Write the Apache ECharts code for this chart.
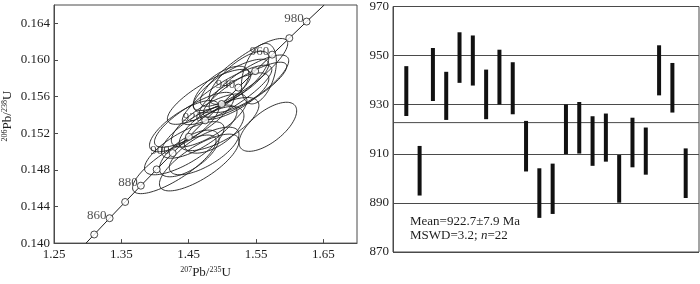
<!DOCTYPE html>
<html>
<head>
<meta charset="utf-8">
<script src="https://cdn.jsdelivr.net/npm/echarts@6/dist/echarts.min.js"></script>
<style>html,body{margin:0;padding:0;background:#fff}#c{width:700px;height:284px}</style>
</head>
<body>
<div id="c"></div>
<script>
// ---- Concordia (206Pb/238U vs 207Pb/235U) ----
const concAge = [850, 860, 870, 880, 890, 900, 910, 920, 930, 940, 950, 960, 970, 980];
const concX = [1.30971, 1.33257, 1.35566, 1.37897, 1.40252, 1.42629, 1.45031, 1.47456, 1.49905, 1.52378, 1.54876, 1.57399, 1.59946, 1.62519];
const concY = [0.14094, 0.14272, 0.14449, 0.14627, 0.14805, 0.14983, 0.15161, 0.15340, 0.15519, 0.15698, 0.15878, 0.16058, 0.16238, 0.16419];
const concLabelAges = [860, 880, 900, 920, 940, 960, 980];
const concStart = [1.2976, 0.1400];
const concEnd = [1.6513, 0.1660];

// ---- Error ellipses (one per analysis) ----
const ellX   = [1.5070, 1.4435, 1.5395, 1.4804, 1.5321, 1.5543, 1.5174, 1.5129, 1.5336, 1.4657, 1.4287, 1.4657, 1.4804, 1.4583, 1.5676, 1.4952, 1.4509, 1.4435, 1.4878, 1.5247, 1.4982, 1.4730];
const ellY   = [0.15618, 0.15036, 0.15740, 0.15597, 0.15864, 0.15850, 0.15604, 0.15728, 0.15675, 0.15217, 0.14860, 0.14880, 0.15339, 0.15346, 0.15270, 0.15300, 0.14979, 0.15277, 0.15237, 0.15805, 0.15677, 0.15006];
const ellSx  = [0.0665, 0.0591, 0.0591, 0.0620, 0.0650, 0.0260, 0.0517, 0.0561, 0.0620, 0.0561, 0.0620, 0.0591, 0.0561, 0.0591, 0.0428, 0.0591, 0.0443, 0.0517, 0.0443, 0.0443, 0.0414, 0.0517];
const ellSy  = [0.00325, 0.00290, 0.00314, 0.00300, 0.00370, 0.00330, 0.00255, 0.00280, 0.00300, 0.00290, 0.00320, 0.00310, 0.00290, 0.00300, 0.00268, 0.00290, 0.00255, 0.00280, 0.00255, 0.00290, 0.00255, 0.00260];
const ellRho = [0.85, 0.75, 0.8, 0.8, 0.85, 0.4, 0.75, 0.8, 0.85, 0.75, 0.8, 0.75, 0.75, 0.8, 0.65, 0.7, 0.65, 0.75, 0.6, 0.75, 0.65, 0.7];

// ---- Weighted mean age plot ----
const ageLow  = [925.4, 893.0, 931.5, 923.8, 938.9, 937.8, 924.1, 930.1, 926.1, 902.8, 883.9, 885.5, 909.9, 910.1, 905.1, 906.8, 890.1, 904.5, 901.5, 933.8, 926.8, 892.0];
const ageHigh = [945.7, 913.2, 953.1, 943.4, 959.5, 958.2, 944.3, 952.4, 947.3, 923.4, 904.1, 906.0, 930.1, 931.1, 925.3, 926.4, 909.5, 924.7, 920.7, 954.2, 947.0, 912.2];
const meanAge = 922.7;
const xTicks = [1.25, 1.35, 1.45, 1.55, 1.65];
const yTicks = [0.140, 0.144, 0.148, 0.152, 0.156, 0.160, 0.164];
const ageTicks = [870, 890, 910, 930, 950, 970];

const FONT = '"Liberation Serif", "DejaVu Serif", serif';
const INK = '#1e1e1e';
const FRAME = '#4a4a4a';

const ellData = ellX.map((x, i) => [x, ellY[i], ellSx[i], ellSy[i], ellRho[i]]);
const concLine = [concStart].concat(concX.map((x, i) => [x, concY[i]])).concat([concEnd]);
const concPts = concX.map((x, i) => ({
  value: [x, concY[i]],
  label: { show: concLabelAges.indexOf(concAge[i]) >= 0, formatter: String(concAge[i]) }
}));
const barData = ageLow.map((lo, i) => [i + 1, lo, ageHigh[i]]);

const chart = echarts.init(document.getElementById('c'), null, { renderer: 'canvas' });
chart.setOption({
  animation: false,
  textStyle: { fontFamily: FONT, color: INK },
  grid: [
    { left: 54, right: 343, top: 5, bottom: 32, show: true, borderColor: FRAME, borderWidth: 1, backgroundColor: 'transparent' },
    { left: 393, right: 1, top: 5, bottom: 32, show: true, borderColor: FRAME, borderWidth: 1, backgroundColor: 'transparent' }
  ],
  xAxis: [
    {
      gridIndex: 0, type: 'value', min: 1.25, max: 1.70, interval: 0.1,
      axisLine: { show: true, onZero: false, lineStyle: { color: FRAME } },
      axisTick: { show: true, inside: true, length: 4, lineStyle: { color: FRAME } },
      splitLine: { show: false },
      axisLabel: { showMaxLabel: false, margin: 5, fontFamily: FONT, fontSize: 13, color: INK,
        formatter: v => { const m = xTicks.find(t => Math.abs(t - v) < 1e-6); return m !== undefined ? m.toFixed(2) : ''; } },
      name: '{s|207}Pb/{s|235}U', nameLocation: 'middle', nameGap: 16,
      nameTextStyle: { fontFamily: FONT, fontSize: 13, color: INK, rich: { s: { fontSize: 8, verticalAlign: 'top', fontFamily: FONT, color: INK } } }
    },
    {
      gridIndex: 1, type: 'value', min: 0, max: 23,
      axisLine: { show: false }, axisTick: { show: false }, axisLabel: { show: false }, splitLine: { show: false }
    }
  ],
  yAxis: [
    {
      gridIndex: 0, type: 'value', min: 0.140, max: 0.166, interval: 0.004,
      axisLine: { show: true, onZero: false, lineStyle: { color: FRAME } },
      axisTick: { show: true, inside: true, length: 4, lineStyle: { color: FRAME } },
      splitLine: { show: false },
      axisLabel: { showMaxLabel: false, margin: 4, fontFamily: FONT, fontSize: 13, color: INK,
        formatter: v => { const m = yTicks.find(t => Math.abs(t - v) < 1e-7); return m !== undefined ? m.toFixed(3) : ''; } },
      name: '{s|206}Pb/{s|238}U', nameLocation: 'middle', nameGap: 40, nameRotate: 90,
      nameTextStyle: { fontFamily: FONT, fontSize: 13, color: INK, padding: [0, 0, 0, 16], rich: { s: { fontSize: 8, verticalAlign: 'top', fontFamily: FONT, color: INK } } }
    },
    {
      gridIndex: 1, type: 'value', min: 870, max: 970, interval: 20,
      axisLine: { show: true, lineStyle: { color: FRAME } },
      axisTick: { show: false },
      splitLine: { show: true, lineStyle: { color: FRAME, width: 1 } },
      axisLabel: { margin: 4, fontFamily: FONT, fontSize: 13, color: INK,
        formatter: v => ageTicks.indexOf(Math.round(v)) >= 0 ? String(Math.round(v)) : '' }
    }
  ],
  series: [
    {
      type: 'custom', xAxisIndex: 0, yAxisIndex: 0, data: ellData, encode: { x: 0, y: 1 }, silent: true, z: 2,
      renderItem: (params, api) => {
        const cx = api.value(0), cy = api.value(1), sx = api.value(2), sy = api.value(3), r = api.value(4);
        const q = Math.sqrt(1 - r * r);
        const pts = [];
        for (let k = 0; k <= 90; k++) {
          const t = k / 90 * Math.PI * 2;
          pts.push(api.coord([cx + sx * Math.cos(t), cy + sy * (r * Math.cos(t) + q * Math.sin(t))]));
        }
        return { type: 'polyline', shape: { points: pts }, style: { fill: null, stroke: INK, lineWidth: 0.9 } };
      }
    },
    {
      type: 'line', xAxisIndex: 0, yAxisIndex: 0, data: concLine, showSymbol: false, silent: true, z: 3,
      lineStyle: { color: INK, width: 1 }
    },
    {
      type: 'scatter', xAxisIndex: 0, yAxisIndex: 0, data: concPts, symbol: 'circle', symbolSize: 7, silent: true, z: 4,
      itemStyle: { color: '#fff', borderColor: INK, borderWidth: 1 },
      label: { position: 'left', distance: -1, offset: [0, -3], fontFamily: FONT, fontSize: 13, color: INK }
    },
    {
      type: 'line', xAxisIndex: 1, yAxisIndex: 1, data: [[0, meanAge], [23, meanAge]], showSymbol: false, silent: true, z: 2,
      lineStyle: { color: FRAME, width: 1 }
    },
    {
      type: 'custom', xAxisIndex: 1, yAxisIndex: 1, data: barData, encode: { x: 0, y: [1, 2] }, silent: true, z: 3,
      renderItem: (params, api) => {
        const top = api.coord([api.value(0), api.value(2)]);
        const bot = api.coord([api.value(0), api.value(1)]);
        return { type: 'rect', shape: { x: top[0] - 2, y: top[1], width: 4, height: bot[1] - top[1] }, style: { fill: '#111' } };
      }
    }
  ],
  graphic: [
    { type: 'text', left: 410, top: 215, style: { text: 'Mean=922.7±7.9 Ma', font: '13px ' + FONT, fill: INK } },
    { type: 'text', left: 410, top: 229, style: { text: 'MSWD=3.2; {i|n}=22', font: '13px ' + FONT, fill: INK,
      rich: { i: { fontStyle: 'italic', fontFamily: FONT, fontSize: 13, fill: INK } } } }
  ]
});
</script>
</body>
</html>
